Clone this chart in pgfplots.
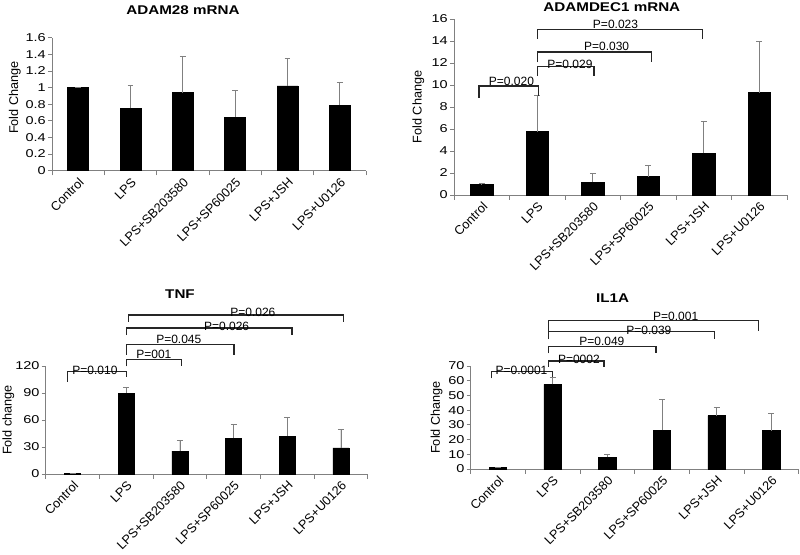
\documentclass[border=0pt]{standalone}
\usepackage{fontspec}
\setmainfont{Liberation Sans}
\newfontfamily\wide{Liberation Sans}[FakeStretch=1.28]
\newfontfamily\widet{Liberation Sans}[FakeStretch=1.2]
\usepackage{pgfplots}
\pgfplotsset{compat=1.18}
\tikzset{
  bracket/.style={draw=black!85, line width=1pt},
  plab/.style={anchor=south, inner sep=0.5pt, font=\fontsize{9}{10.8}\selectfont},
}
\pgfplotsset{
  panel/.style={
    scale only axis, clip=false,
    anchor=south west,
    ybar, bar width=0.4,
    xmin=-0.5, xmax=5.5, ymin=0,
    axis x line*=bottom, axis y line*=left,
    axis line style={draw=gray, line width=0.6pt, -},
    tick align=outside,
    /pgf/number format/assume math mode=true,
    xtick={0,...,5},
    xticklabels={Control,LPS,LPS+SB203580,LPS+SP60025,LPS+JSH,LPS+U0126},
    xticklabel style={rotate=45, anchor=north east, font=\fontsize{9.5}{11}\selectfont, inner sep=1pt},
    major x tick style={draw=none},
    minor xtick={-0.5,0.5,1.5,2.5,3.5,4.5,5.5},
    minor tick length=3.5pt,
    minor x tick style={draw=gray, line width=0.6pt},
    major tick length=3pt,
    major y tick style={draw=gray, line width=0.6pt},
    yticklabel style={font=\wide\fontsize{8.5}{10}\selectfont, inner sep=1.5pt},
    ylabel style={font=\fontsize{9.5}{11}\selectfont, anchor=center},
    title style={font=\widet\fontsize{9.5}{11}\selectfont\bfseries, anchor=center, yshift=-6pt},
  },
  bars/.style={fill=black, draw=black, line width=0.4pt,
    error bars/.cd, y dir=plus, y explicit,
    error bar style={draw=gray, line width=0.6pt},
    error mark options={draw=gray, rotate=90, mark size=2.2pt, line width=0.6pt}},
}
\begin{document}
\begin{tikzpicture}
\path[use as bounding box] (0,0) rectangle (600pt,-415.5pt);

% ---------- ADAM28 ----------
\begin{axis}[panel, at={(39pt,-128pt)}, width=235.5pt, height=99.75pt,
  ymax=1.6, ytick={0,0.2,0.4,0.6,0.8,1,1.2,1.4,1.6},
  yticklabels={0,0.2,0.4,0.6,0.8,1,1.2,1.4,1.6},
  ylabel={Fold Change}, ylabel style={at={(axis description cs:-0.118,0.55)}},
  title={ADAM28 mRNA}, title style={at={(axis description cs:0.417,1.208)}}]
\addplot[bars] coordinates {
 (0,1.00) +- (0,0.005)
 (1,0.75) +- (0,0.27)
 (2,0.94) +- (0,0.43)
 (3,0.645) +- (0,0.315)
 (4,1.02) +- (0,0.33)
 (5,0.79) +- (0,0.27)};
\end{axis}

% ---------- ADAMDEC1 ----------
\begin{axis}[panel, at={(340.5pt,-146.25pt)}, width=249.75pt, height=132pt,
  ymax=16, ytick={0,2,...,16},
  ylabel={Fold Change}, ylabel style={at={(axis description cs:-0.107,0.5)}},
  title={ADAMDEC1 mRNA}, title style={at={(axis description cs:0.474,1.07)}}]
\addplot[bars] coordinates {
 (0,0.97) +- (0,0.05)
 (1,5.76) +- (0,3.34)
 (2,1.18) +- (0,0.76)
 (3,1.67) +- (0,1.0)
 (4,3.79) +- (0,2.88)
 (5,9.3) +- (0,4.64)};
\draw[bracket] (axis cs:-0.05,8.85) -- (axis cs:-0.05,9.9) -- (axis cs:1.02,9.9) -- (axis cs:1.02,9.0);
\node[plab] at (axis cs:0.535,9.9) {P=0.020};
\draw[bracket] (axis cs:1,10.8) -- (axis cs:1,11.67) -- (axis cs:2.02,11.67) -- (axis cs:2.02,10.8);
\node[plab, yshift=-2pt] at (axis cs:1.59,11.67) {P=0.029};
\draw[bracket] (axis cs:1,12.06) -- (axis cs:1,13.0) -- (axis cs:3.06,13.0) -- (axis cs:3.06,12.06);
\node[plab] at (axis cs:2.25,13.0) {P=0.030};
\draw[bracket] (axis cs:1,14.2) -- (axis cs:1,15.06) -- (axis cs:3.98,15.06) -- (axis cs:3.98,14.2);
\node[plab] at (axis cs:2.41,15.06) {P=0.023};
\end{axis}

% ---------- TNF ----------
\begin{axis}[panel, at={(34.3pt,-355.5pt)}, width=241.5pt, height=81pt,
  bar width=0.3,
  ymax=120, ytick={0,30,...,120},
  ylabel={Fold change}, ylabel style={at={(axis description cs:-0.116,0.5)}},
  title={TNF}, title style={at={(axis description cs:0.417,1.667)}}]
\addplot[bars] coordinates {
 (0,1.0) +- (0,0)
 (1,89.9) +- (0,6.7)
 (2,25.3) +- (0,12.2)
 (3,39.8) +- (0,15.6)
 (4,42.0) +- (0,21.2)
 (5,29.0) +- (0,20.4)};
\draw[bracket] (axis cs:-0.1,102.5) -- (axis cs:-0.1,113.7) -- (axis cs:1.0,113.7) -- (axis cs:1.0,107.7);
\node[plab, yshift=-3pt] at (axis cs:0.418,113.7) {P=0.010};
\draw[bracket] (axis cs:1.0,119.6) -- (axis cs:1.0,127) -- (axis cs:2.03,127) -- (axis cs:2.03,119.6);
\node[plab] at (axis cs:1.515,127) {P=001};
\draw[bracket] (axis cs:1.0,132.6) -- (axis cs:1.0,143.8) -- (axis cs:3.01,143.8) -- (axis cs:3.01,132.6);
\node[plab] at (axis cs:1.98,143.8) {P=0.045};
\draw[bracket] (axis cs:1.0,154.2) -- (axis cs:1.0,162.4) -- (axis cs:4.09,162.4) -- (axis cs:4.09,154.2);
\node[plab, yshift=-3pt] at (axis cs:2.87,162.4) {P=0.026};
\draw[bracket] (axis cs:1.04,169) -- (axis cs:1.04,176.5) -- (axis cs:5.05,176.5) -- (axis cs:5.05,169);
\node[plab, yshift=-2pt] at (axis cs:3.36,176.5) {P=0.026};
\end{axis}

% ---------- IL1A ----------
\begin{axis}[panel, at={(353pt,-351.75pt)}, width=246pt, height=77.25pt,
  bar width=0.32,
  ymax=70, ytick={0,10,...,70},
  ylabel={Fold Change}, ylabel style={at={(axis description cs:-0.104,0.5)}},
  title={IL1A}, title style={at={(axis description cs:0.433,1.657)}}]
\addplot[bars] coordinates {
 (0,1.0) +- (0,0)
 (1,57.5) +- (0,4.8)
 (2,7.9) +- (0,2.1)
 (3,26.5) +- (0,20.8)
 (4,36.2) +- (0,5.7)
 (5,26.0) +- (0,11.8)};
\draw[bracket] (axis cs:-0.12,61.6) -- (axis cs:-0.12,66.2) -- (axis cs:1.0,66.2) -- (axis cs:1.0,62.3);
\node[plab, yshift=-3pt] at (axis cs:0.43,66.2) {P=0.0001};
\draw[bracket] (axis cs:0.92,69.5) -- (axis cs:0.92,73.4) -- (axis cs:1.94,73.4) -- (axis cs:1.94,69.5);
\node[plab, yshift=-3pt] at (axis cs:1.48,73.4) {P=0002};
\draw[bracket] (axis cs:0.92,78.6) -- (axis cs:0.92,83.1) -- (axis cs:2.89,83.1) -- (axis cs:2.89,78.6);
\node[plab] at (axis cs:1.9,83.1) {P=0.049};
\draw[bracket] (axis cs:0.92,88.1) -- (axis cs:0.92,93.3) -- (axis cs:3.96,93.3) -- (axis cs:3.96,88.1);
\node[plab, yshift=-3pt] at (axis cs:2.76,93.3) {P=0.039};
\draw[bracket] (axis cs:0.92,94) -- (axis cs:0.92,100.8) -- (axis cs:4.77,100.8) -- (axis cs:4.77,94);
\node[plab, yshift=-1pt] at (axis cs:3.25,100.8) {P=0.001};
\end{axis}
\end{tikzpicture}
\end{document}
